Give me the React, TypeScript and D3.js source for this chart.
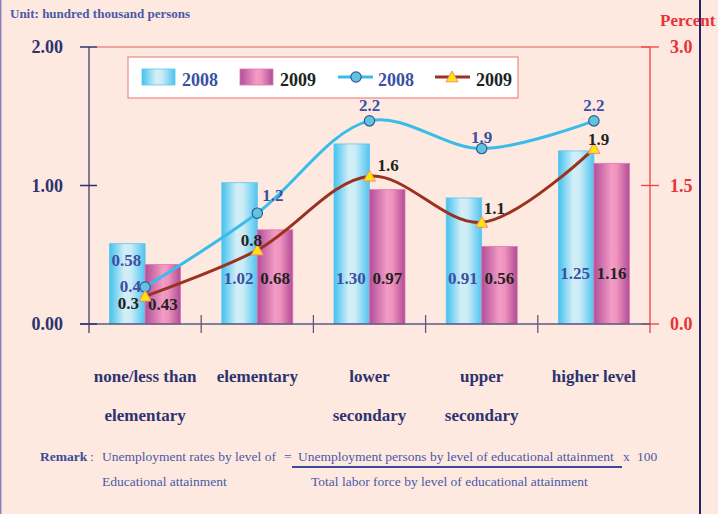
import * as d3 from 'd3';

// categories (two text rows each)
const catLine1 = ['none/less than', 'elementary', 'lower', 'upper', 'higher level'];
const catLine2 = ['elementary', '', 'secondary', 'secondary', ''];

// unemployed persons, hundred thousand
const persons2008 = [0.58, 1.02, 1.3, 0.91, 1.25];
const persons2009 = [0.43, 0.68, 0.97, 0.56, 1.16];
// unemployment rate, percent
const rate2008 = [0.4, 1.2, 2.2, 1.9, 2.2];
const rate2009 = [0.3, 0.8, 1.6, 1.1, 1.9];

const leftTicks = [0, 1, 2];
const rightTicks = [0, 1.5, 3];

const W = 718;
const H = 514;
const serif = '"Liberation Serif", "Times New Roman", serif';
const navy = '#2E3370';
const blueText = '#3B4FA3';
const red = '#E8323A';

export default function App() {
  const x = d3.scaleBand<number>().domain(d3.range(catLine1.length)).range([89, 650]);
  const yL = d3.scaleLinear().domain([0, 2]).range([324, 47]);
  const yR = d3.scaleLinear().domain([0, 3]).range([324, 47]);
  const bw = 35.5;
  const cx = (i: number) => (x(i) as number) + x.bandwidth() / 2;

  const line = d3
    .line<number>()
    .x((_, i) => cx(i))
    .y((d) => yR(d))
    .curve(d3.curveCatmullRom.alpha(0.5));

  // label placement tweaks (layout only)
  const barLabelY = (i: number, s: number) => {
    if (i === 0) return s === 0 ? 266 : 310;
    return i === 4 ? 279 : 284;
  };
  const lbl08 = [
    { dx: -4, dy: 5, a: 'end' },
    { dx: 5, dy: -12, a: 'start' },
    { dx: 0, dy: -10, a: 'middle' },
    { dx: 0, dy: -6, a: 'middle' },
    { dx: 0, dy: -10, a: 'middle' },
  ];
  const lbl09 = [
    { dx: -6, dy: 13, a: 'end' },
    { dx: -6, dy: -4, a: 'middle' },
    { dx: 8, dy: -5, a: 'start' },
    { dx: 2, dy: -8, a: 'start' },
    { dx: -6, dy: -4, a: 'start' },
  ];

  const tri = (px: number, py: number, s = 6) =>
    `M${px},${py - s}L${px + s},${py + s * 0.8}L${px - s},${py + s * 0.8}Z`;

  return (
    <svg width={W} height={H} style={{ position: 'absolute', left: 0, top: 0 }} fontFamily={serif}>
      <defs>
        <linearGradient id="gBlue" x1="0" x2="1" y1="0" y2="0">
          <stop offset="0%" stopColor="#43C2F0" />
          <stop offset="42%" stopColor="#D3EEF6" />
          <stop offset="60%" stopColor="#CBECF6" />
          <stop offset="100%" stopColor="#4FC4F0" />
        </linearGradient>
        <linearGradient id="gPink" x1="0" x2="1" y1="0" y2="0">
          <stop offset="0%" stopColor="#B24E98" />
          <stop offset="50%" stopColor="#F39CC5" />
          <stop offset="65%" stopColor="#EE92BE" />
          <stop offset="100%" stopColor="#B04C96" />
        </linearGradient>
      </defs>
      <rect width={W} height={H} fill="#FDE9DF" />
      <line x1={0.7} x2={0.7} y1={0} y2={H} stroke="#8C80BC" strokeWidth={1.5} />

      <text x={10} y={18} fontSize={13} fontWeight="bold" fill="#4A5AA8">
        Unit: hundred thousand persons
      </text>
      <text x={660} y={26} fontSize={17} fontWeight="bold" fill={red}>
        Percent
      </text>
      <line x1={700} x2={700} y1={0} y2={H} stroke="#24246C" strokeWidth={2} />

      {/* frame */}
      <line x1={97} x2={650} y1={47} y2={47} stroke="#F28A8A" strokeWidth={1.3} />
      <line x1={650} x2={650} y1={47} y2={333} stroke="#F04040" strokeWidth={1.3} />
      {rightTicks.map((t) => (
        <g key={t}>
          <line x1={641} x2={659} y1={yR(t)} y2={yR(t)} stroke="#F04040" strokeWidth={1.3} />
          <text x={670} y={yR(t) + 6} fontSize={18} fontWeight="bold" fill={red}>
            {d3.format('.1f')(t)}
          </text>
        </g>
      ))}

      {/* bars */}
      {persons2008.map((v, i) => (
        <rect key={'b' + i} x={cx(i) - bw} y={yL(v)} width={bw} height={yL(0) - yL(v)}
          fill="url(#gBlue)" stroke="#5CC6F0" strokeWidth={0.8} />
      ))}
      {persons2009.map((v, i) => (
        <rect key={'p' + i} x={cx(i)} y={yL(v)} width={bw} height={yL(0) - yL(v)}
          fill="url(#gPink)" stroke="#E674AE" strokeWidth={0.8} />
      ))}

      {/* left axis */}
      <line x1={89} x2={89} y1={47} y2={333} stroke="#5C5278" strokeWidth={1.5} />
      <line x1={80} x2={650} y1={324} y2={324} stroke="#5C5A80" strokeWidth={1.5} />
      {leftTicks.map((t) => (
        <g key={t}>
          <line x1={80} x2={97} y1={yL(t)} y2={yL(t)} stroke={navy} strokeWidth={1.5} />
          <text x={63} y={yL(t) + 6} fontSize={18} fontWeight="bold" fill={navy} textAnchor="end">
            {d3.format('.2f')(t)}
          </text>
        </g>
      ))}
      {d3.range(1, catLine1.length).map((i) => (
        <line key={i} x1={x(i)} x2={x(i)} y1={315} y2={333} stroke="#5C5A80" strokeWidth={1.3} />
      ))}

      {/* bar value labels */}
      {persons2008.map((v, i) => (
        <text key={'lb' + i} x={cx(i) - bw / 2 - 1} y={barLabelY(i, 0)} fontSize={17}
          fontWeight="bold" fill={blueText} textAnchor="middle">
          {d3.format('.2f')(v)}
        </text>
      ))}
      {persons2009.map((v, i) => (
        <text key={'lp' + i} x={cx(i) + bw / 2} y={barLabelY(i, 1)} fontSize={17}
          fontWeight="bold" fill="#222" textAnchor="middle">
          {d3.format('.2f')(v)}
        </text>
      ))}

      {/* lines */}
      <path d={line(rate2008) as string} fill="none" stroke="#38BDEB" strokeWidth={3} />
      <path d={line(rate2009) as string} fill="none" stroke="#9A3220" strokeWidth={3} />
      {rate2008.map((v, i) => (
        <circle key={'c' + i} cx={cx(i)} cy={yR(v)} r={5.2} fill="#5EC6DA" stroke="#3A55A0" strokeWidth={1.2} />
      ))}
      {rate2009.map((v, i) => (
        <path key={'t' + i} d={tri(cx(i), yR(v))} fill="#FFE600" stroke="#F08A80" strokeWidth={1} />
      ))}
      {rate2008.map((v, i) => (
        <text key={'l8' + i} x={cx(i) + lbl08[i].dx} y={yR(v) + lbl08[i].dy} fontSize={17}
          fontWeight="bold" fill={blueText} textAnchor={lbl08[i].a as any}>
          {d3.format('.1f')(v)}
        </text>
      ))}
      {rate2009.map((v, i) => (
        <text key={'l9' + i} x={cx(i) + lbl09[i].dx} y={yR(v) + lbl09[i].dy} fontSize={17}
          fontWeight="bold" fill="#222" textAnchor={lbl09[i].a as any}>
          {d3.format('.1f')(v)}
        </text>
      ))}

      {/* category labels */}
      {catLine1.map((c, i) => (
        <g key={'cat' + i} fontSize={17} fontWeight="bold" fill={navy} textAnchor="middle">
          <text x={cx(i)} y={382}>{c}</text>
          <text x={cx(i)} y={421}>{catLine2[i]}</text>
        </g>
      ))}

      {/* legend */}
      <rect x={128} y={57} width={390} height={41} fill="#fff" stroke="#F29090" strokeWidth={1.3} />
      <rect x={142} y={69} width={33} height={16} fill="url(#gBlue)" stroke="#5CC6F0" strokeWidth={0.8} />
      <text x={182} y={86} fontSize={18} fontWeight="bold" fill={blueText}>2008</text>
      <rect x={240} y={69} width={33} height={16} fill="url(#gPink)" stroke="#E674AE" strokeWidth={0.8} />
      <text x={280} y={86} fontSize={18} fontWeight="bold" fill="#222">2009</text>
      <line x1={338} x2={373} y1={77} y2={77} stroke="#38BDEB" strokeWidth={3} />
      <circle cx={356} cy={77} r={5.2} fill="#5EC6DA" stroke="#3A55A0" strokeWidth={1.2} />
      <text x={378} y={86} fontSize={18} fontWeight="bold" fill={blueText}>2008</text>
      <line x1={435} x2={470} y1={77} y2={77} stroke="#9A3220" strokeWidth={3} />
      <path d={tri(452, 77)} fill="#FFE600" stroke="#F08A80" strokeWidth={1} />
      <text x={476} y={86} fontSize={18} fontWeight="bold" fill="#222">2009</text>

      {/* remark */}
      <g fontSize={13.5} fill="#4A5AA8">
        <text x={40} y={461} fontWeight="bold" fill="#3B4A9A">Remark</text>
        <text x={90} y={461}>:</text>
        <text x={102} y={461}>Unemployment rates by level of</text>
        <text x={284} y={461}>=</text>
        <text x={298} y={461}>Unemployment persons by level of educational attainment</text>
        <text x={623} y={461}>x</text>
        <text x={637} y={461}>100</text>
        <text x={102} y={486}>Educational attainment</text>
        <text x={311} y={486}>Total labor force by level of educational attainment</text>
      </g>
      <line x1={292} x2={622} y1={467} y2={467} stroke="#3B4A9A" strokeWidth={2} />
    </svg>
  );
}
